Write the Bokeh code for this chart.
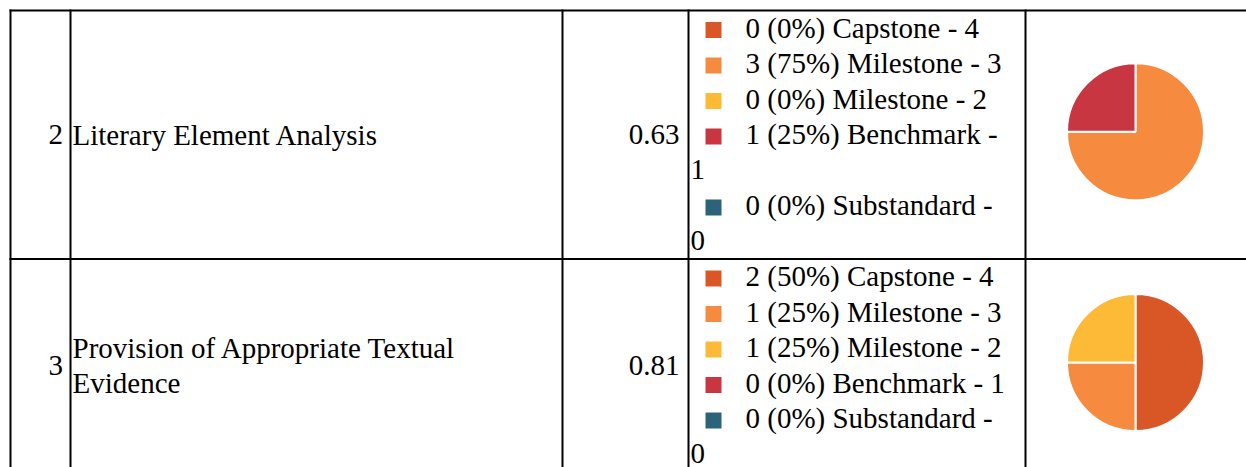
from bokeh.plotting import figure
from bokeh.models import Range1d, ColumnDataSource
from bokeh.core.properties import value
from bokeh.embed import file_html
from bokeh.resources import INLINE
import math

# ---------------- data ----------------
row_ids = ["2", "3"]
criteria = [["Literary Element Analysis"],
            ["Provision of Appropriate Textual", "Evidence"]]
scores = [0.63, 0.81]
levels = ["Capstone - 4", "Milestone - 3", "Milestone - 2", "Benchmark - 1", "Substandard - 0"]
level_colors = ["#D95727", "#F68B3F", "#FDBA36", "#C83642", "#2B637A"]
counts_row2 = [0, 3, 0, 1, 0]
counts_row3 = [2, 1, 1, 0, 0]
all_counts = [counts_row2, counts_row3]

# ---------------- layout constants ----------------
FONT = value("Liberation Serif")
FS = value("29px")
LINE = 35.5
TXT_SHIFT = 10.5   # correction of rendered baseline
W, H = 1246, 467
col_x = [10, 70, 562, 688, 1025]
TW = {' ': .25, '(': .333, ')': .333, '%': .833, '-': .333, 'C': .667, 'M': .889, 'B': .667,
      'S': .556, 'a': .444, 'p': .5, 's': .389, 't': .278, 'o': .5, 'n': .5, 'e': .444,
      'i': .278, 'l': .278, 'c': .444, 'h': .5, 'm': .778, 'r': .333, 'k': .5, 'u': .5,
      'b': .5, 'd': .5}


def em_width(s):
    return sum(TW.get(ch, 0.5) for ch in s)


p = figure(width=W, height=H, x_range=Range1d(0, W), y_range=Range1d(-H, 0),
           output_backend="svg", toolbar_location=None, min_border=0,
           x_axis_location=None, y_axis_location=None)
p.grid.visible = False
p.outline_line_color = None
p.background_fill_color = "white"
p.border_fill_color = "white"

row_top = 10
h_lines = [10]
txt = dict(x=[], y=[], t=[])
txt_r = dict(x=[], y=[], t=[])
sq = dict(x=[], y=[], c=[])
wedges = dict(x=[], y=[], s=[], e=[], c=[])

for r in range(len(row_ids)):
    counts = all_counts[r]
    total = sum(counts)
    lines = []
    for lvl, c, col in zip(levels, counts, level_colors):
        pct = round(100 * c / total)
        label = f"{c} ({pct}%) {lvl}"
        if em_width(label) > 9.1:
            head, tail = label.rsplit(" ", 1)
            lines.append((head, 745, col))
            lines.append((tail, 690, None))
        else:
            lines.append((label, 745, col))
    row_h = len(lines) * LINE
    first_base = row_top + 27.5
    for i, (t, x, col) in enumerate(lines):
        b = first_base + i * LINE
        txt["x"].append(x); txt["y"].append(-(b - TXT_SHIFT)); txt["t"].append(t)
        if col is not None:
            sq["x"].append(713); sq["y"].append(-(b - 8)); sq["c"].append(col)
    mid = row_top + row_h / 2
    base_mid = mid + 10.5
    txt_r["x"] += [62.5, 679]
    txt_r["y"] += [-(base_mid - TXT_SHIFT)] * 2
    txt_r["t"] += [row_ids[r], f"{scores[r]:.2f}"]
    crit = criteria[r]
    n = len(crit)
    for j, t in enumerate(crit):
        b = base_mid + (j - (n - 1) / 2) * 35
        txt["x"].append(72); txt["y"].append(-(b - TXT_SHIFT)); txt["t"].append(t)
    cy = mid - 3
    cum = 0
    for c, col in zip(counts, level_colors):
        if c > 0:
            a0 = math.pi / 2 - 2 * math.pi * cum / total
            a1 = math.pi / 2 - 2 * math.pi * (cum + c) / total
            wedges["x"].append(1135); wedges["y"].append(-cy)
            wedges["s"].append(a0); wedges["e"].append(a1); wedges["c"].append(col)
        cum += c
    row_top = row_top + row_h
    h_lines.append(row_top)

vx = col_x
p.segment(x0=vx, y0=[-9] * len(vx), x1=vx, y1=[-480] * len(vx), line_color="black", line_width=2)
hy = h_lines[:-1]
p.segment(x0=[9] * len(hy), y0=[-y for y in hy], x1=[1260] * len(hy), y1=[-y for y in hy],
          line_color="black", line_width=2)

p.wedge(x="x", y="y", radius=68.5, start_angle="s", end_angle="e", direction="clock",
        fill_color="c", line_color="white", line_width=2, source=ColumnDataSource(wedges))
p.rect(x="x", y="y", width=16, height=16, fill_color="c", line_color=None,
       source=ColumnDataSource(sq))
p.text(x="x", y="y", text="t", text_font=FONT, text_font_size=FS, text_color="black",
       text_baseline="alphabetic", text_align="left", source=ColumnDataSource(txt))
p.text(x="x", y="y", text="t", text_font=FONT, text_font_size=FS, text_color="black",
       text_baseline="alphabetic", text_align="right", source=ColumnDataSource(txt_r))

open("out.html", "w").write(file_html(p, INLINE))
